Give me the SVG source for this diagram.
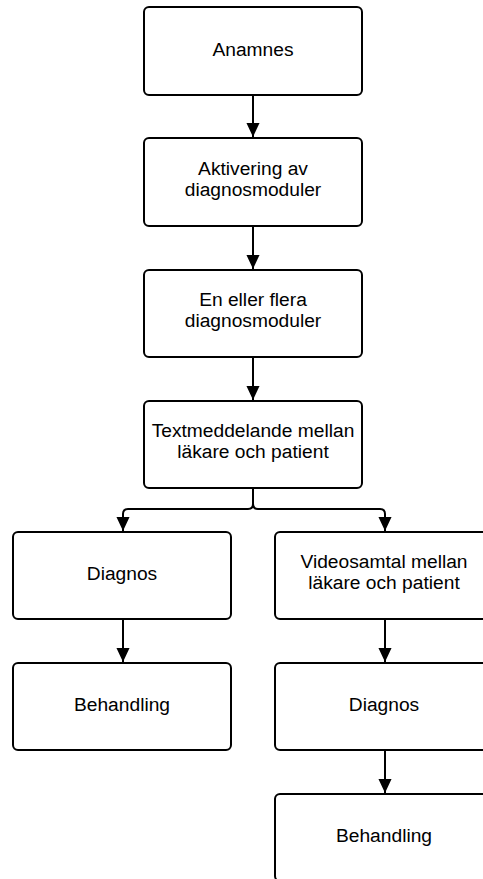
<svg xmlns="http://www.w3.org/2000/svg" width="483" height="879" viewBox="0 0 483 879">
<defs>
<style>
.box{fill:#fff;stroke:#000;stroke-width:2}
.t{font-family:"Liberation Sans",Arial,sans-serif;font-size:19.2px;fill:#000;text-anchor:middle}
.c{fill:none;stroke:#000;stroke-width:2}
</style>
<marker id="ah" markerWidth="14" markerHeight="15" viewBox="0 0 15 14" refX="15" refY="7" orient="auto" markerUnits="userSpaceOnUse">
<path d="M0,0 L15,7 L0,14 Z" fill="#000"/>
</marker>
</defs>
<rect width="483" height="879" fill="#fff"/>
<g id="connectors">
<path class="c" d="M253,95 V137" marker-end="url(#ah)"/>
<path class="c" d="M253,226 V269" marker-end="url(#ah)"/>
<path class="c" d="M253,357 V400" marker-end="url(#ah)"/>
<path class="c" d="M253,488 V504 Q253,509 248,509 H128 Q123,509 123,514 V531" marker-end="url(#ah)"/>
<path class="c" d="M253,504 Q253,509 258,509 H380 Q385,509 385,514 V531" marker-end="url(#ah)"/>
<path class="c" d="M123,619 V662" marker-end="url(#ah)"/>
<path class="c" d="M385,619 V662" marker-end="url(#ah)"/>
<path class="c" d="M385,750 V793" marker-end="url(#ah)"/>
</g>
<g id="n1"><rect class="box" x="144" y="7" width="218" height="88" rx="5"/><text class="t" x="253" y="56">Anamnes</text></g>
<g id="n2"><rect class="box" x="144" y="138" width="218" height="88" rx="5"/><text class="t" x="253" y="174.5">Aktivering av</text><text class="t" x="253" y="195.5">diagnosmoduler</text></g>
<g id="n3"><rect class="box" x="144" y="270" width="218" height="87" rx="5"/><text class="t" x="253" y="306">En eller flera</text><text class="t" x="253" y="327">diagnosmoduler</text></g>
<g id="n4"><rect class="box" x="144" y="401" width="218" height="87" rx="5"/><text class="t" x="253" y="437">Textmeddelande mellan</text><text class="t" x="253" y="458">läkare och patient</text></g>
<g id="n5"><rect class="box" x="13" y="532" width="218" height="87" rx="5"/><text class="t" x="122" y="580">Diagnos</text></g>
<g id="n6"><rect class="box" x="275" y="532" width="218" height="87" rx="5"/><text class="t" x="384" y="568">Videosamtal mellan</text><text class="t" x="384" y="589">läkare och patient</text></g>
<g id="n7"><rect class="box" x="13" y="663" width="218" height="87" rx="5"/><text class="t" x="122" y="711">Behandling</text></g>
<g id="n8"><rect class="box" x="275" y="663" width="218" height="87" rx="5"/><text class="t" x="384" y="711">Diagnos</text></g>
<g id="n9"><rect class="box" x="275" y="794" width="218" height="87" rx="5"/><text class="t" x="384" y="842">Behandling</text></g>
</svg>
